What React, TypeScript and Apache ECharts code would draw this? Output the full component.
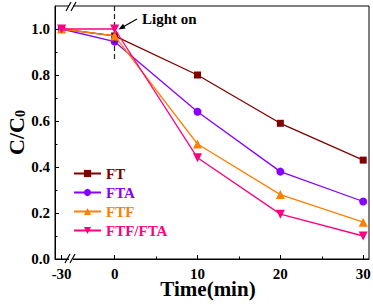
import React, { useEffect, useRef } from "react";
import * as echarts from "echarts";

// Data
const times = [-30, 0, 10, 20, 30];
const seriesNames = ["FT", "FTA", "FTF", "FTF/FTA"];
const ft = [1.0, 0.97, 0.8, 0.59, 0.43];
const fta = [1.0, 0.945, 0.64, 0.38, 0.25];
const ftf = [1.0, 0.97, 0.5, 0.28, 0.16];
const ftfFta = [1.0, 1.0, 0.44, 0.195, 0.1];
const xTickLabels = [-30, 0, 10, 20, 30];
const xMinorTicks = [5, 15, 25];
const yTickLabels = [0, 0.2, 0.4, 0.6, 0.8, 1.0];
const yMinorTicks = [0.1, 0.3, 0.5, 0.7, 0.9];

const colors = ["#800000", "#8800ff", "#ff8000", "#ff0080"];
const symbols = ["rect", "circle", "triangle", "path://M0,0 L10,0 L5,9 Z"];
const symbolSizes = [7, 8, 9, 9];

// axis break: -30 is drawn just right of the left edge
const BREAK_POS = -6.4;
const toAxis = (t: number) => (t <= -30 ? BREAK_POS : t);

const FONT = "Liberation Serif";

export default function App() {
  const ref = useRef<HTMLDivElement>(null);
  useEffect(() => {
    if (!ref.current) return;
    const chart = echarts.init(ref.current, undefined, { renderer: "svg" });
    const allData = [ft, fta, ftf, ftfFta];
    const series: any[] = allData.map((vals, i) => ({
      name: seriesNames[i],
      type: "line",
      xAxisIndex: 0,
      yAxisIndex: 0,
      data: vals.map((v, j) => [toAxis(times[j]), v]),
      symbol: symbols[i],
      symbolSize: symbolSizes[i],
      lineStyle: { color: colors[i], width: 1.3 },
      itemStyle: { color: colors[i] },
      z: 3 + i,
    }));
    series[0].markLine = {
      silent: true,
      symbol: "none",
      label: { show: false },
      lineStyle: { color: "#222", type: [5, 3], width: 1.2 },
      data: [[{ coord: [0, 1.1] }, { coord: [0, 0.86] }]],
    };

    const axisLabelStyle = {
      fontFamily: FONT,
      fontWeight: "bold" as const,
      fontSize: 15,
      color: "#000",
    };

    chart.setOption({
      animation: false,
      grid: {
        left: 55,
        top: 6,
        right: 4,
        bottom: 46,
        containLabel: false,
        outerBoundsMode: "none",
        show: true,
        borderColor: "#000",
        borderWidth: 1,
        backgroundColor: "transparent",
      },
      legend: {
        orient: "vertical",
        left: 73,
        top: 166,
        padding: 0,
        itemWidth: 27,
        itemHeight: 9,
        itemGap: 4,
        data: seriesNames.map((n, i) => ({
          name: n,
          textStyle: { color: colors[i] },
        })),
        textStyle: {
          fontFamily: FONT,
          fontWeight: "bold",
          fontSize: 15,
        },
      },
      xAxis: [
        {
          type: "value",
          min: -7.2,
          max: 30.7,
          name: "Time(min)",
          nameLocation: "middle",
          nameGap: 22,
          nameMoveOverlap: false,
          nameTextStyle: {
            fontFamily: FONT,
            fontWeight: "bold",
            fontSize: 21,
            lineHeight: 16,
            color: "#000",
            padding: [0, 8, 0, 0],
          },
          axisLine: {
            show: true,
            onZero: false,
            lineStyle: { color: "#000", width: 1 },
          },
          axisTick: {
            show: true,
            inside: true,
            length: 4,
            customValues: xTickLabels.map(toAxis),
            lineStyle: { color: "#000" },
          },
          axisLabel: {
            ...axisLabelStyle,
            margin: 7,
            customValues: xTickLabels.map(toAxis),
            formatter: (v: number) =>
              String(xTickLabels[xTickLabels.map(toAxis).indexOf(v)] ?? v),
          },
          splitLine: { show: false },
        },
        {
          type: "value",
          min: -7.2,
          max: 30.7,
          position: "bottom",
          axisLine: { show: false, onZero: false },
          axisTick: {
            show: true,
            inside: true,
            length: 2.5,
            customValues: xMinorTicks,
            lineStyle: { color: "#000" },
          },
          axisLabel: { show: false },
          splitLine: { show: false },
        },
      ],
      yAxis: [
        {
          type: "value",
          min: 0,
          max: 1.1,
          name: "{a|C/C}{b|0}",
          nameLocation: "middle",
          nameGap: 28,
          nameMoveOverlap: false,
          nameTextStyle: {
            color: "#000",
            rich: {
              a: {
                fontFamily: FONT,
                fontWeight: "bold",
                fontSize: 22,
                lineHeight: 22,
                color: "#000",
                padding: [0, 0, 6, 0],
                verticalAlign: "top",
              },
              b: {
                fontFamily: FONT,
                fontWeight: "bold",
                fontSize: 14,
                color: "#000",
                verticalAlign: "bottom",
              },
            },
          },
          axisLine: {
            show: true,
            onZero: false,
            lineStyle: { color: "#000", width: 1 },
          },
          axisTick: {
            show: true,
            inside: true,
            length: 4,
            customValues: yTickLabels,
            lineStyle: { color: "#000" },
          },
          axisLabel: {
            ...axisLabelStyle,
            margin: 5,
            customValues: yTickLabels,
            formatter: (v: number) => v.toFixed(1),
          },
          splitLine: { show: false },
        },
        {
          type: "value",
          min: 0,
          max: 1.1,
          position: "left",
          axisLine: { show: false, onZero: false },
          axisTick: {
            show: true,
            inside: true,
            length: 2.5,
            customValues: yMinorTicks,
            lineStyle: { color: "#000" },
          },
          axisLabel: { show: false },
          splitLine: { show: false },
        },
      ],
      graphic: [
        {
          type: "text",
          left: 142,
          top: 11,
          style: {
            text: "Light on",
            font: `bold 15px "${FONT}"`,
            fill: "#000",
          },
          z: 10,
        },
        {
          type: "line",
          shape: { x1: 137, y1: 19, x2: 122, y2: 27.5 },
          style: { stroke: "#000", lineWidth: 1.2 },
          z: 10,
        },
        {
          type: "polygon",
          shape: { points: [[118.5, 29.5], [125.5, 28.4], [123, 23.8]] },
          style: { fill: "#000" },
          z: 10,
        },
        // axis-break marks, top
        {
          type: "rect",
          shape: { x: 69, y: 4, width: 4, height: 4 },
          style: { fill: "#fff" },
          z: 10,
        },
        {
          type: "line",
          shape: { x1: 66, y1: 11, x2: 71, y2: 2 },
          style: { stroke: "#000", lineWidth: 1.2 },
          z: 11,
        },
        {
          type: "line",
          shape: { x1: 71, y1: 11, x2: 76, y2: 2 },
          style: { stroke: "#000", lineWidth: 1.2 },
          z: 11,
        },
        // axis-break marks, bottom
        {
          type: "rect",
          shape: { x: 69, y: 257, width: 4, height: 4 },
          style: { fill: "#fff" },
          z: 10,
        },
        {
          type: "line",
          shape: { x1: 65, y1: 263, x2: 70, y2: 254 },
          style: { stroke: "#000", lineWidth: 1.2 },
          z: 11,
        },
        {
          type: "line",
          shape: { x1: 70, y1: 263, x2: 75, y2: 254 },
          style: { stroke: "#000", lineWidth: 1.2 },
          z: 11,
        },
      ],
      series,
    });
    return () => chart.dispose();
  }, []);
  return (
    <div
      ref={ref}
      style={{ width: 373, height: 305, position: "absolute", left: 0, top: 0 }}
    />
  );
}
